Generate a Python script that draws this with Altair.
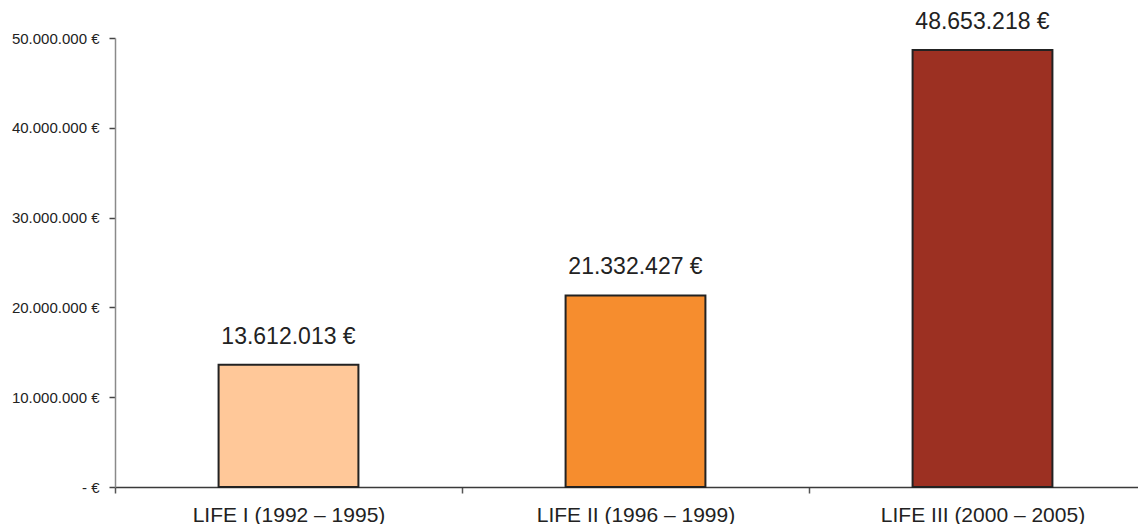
import altair as alt
import pandas as pd

categories = ["LIFE I (1992 – 1995)", "LIFE II (1996 – 1999)", "LIFE III (2000 – 2005)"]
values = [13612013, 21332427, 48653218]
colors = ["#FFC899", "#F68D2E", "#9C3022"]
y_tick_values = [0, 10000000, 20000000, 30000000, 40000000, 50000000]
y_tick_labels = ["-  €", "10.000.000 €", "20.000.000 €", "30.000.000 €", "40.000.000 €", "50.000.000 €"]


def fmt(v):
    return f"{v:,}".replace(",", ".") + " €"


df = pd.DataFrame({
    "cat": categories,
    "value": values,
    "label": [fmt(v) for v in values],
})

FONT = "Liberation Sans"
label_expr = "[" + ",".join(f"'{t}'" for t in y_tick_labels) + "][round(datum.value/10000000)]"

x = alt.X(
    "cat:N",
    sort=categories,
    title=None,
    scale=alt.Scale(paddingInner=0, paddingOuter=0, range=[0, 1041]),
    axis=alt.Axis(
        tickBand="extent",
        labelAngle=0,
        labelFontSize=21,
        labelFont=FONT,
        labelColor="#222222",
        labelBaseline="alphabetic",
        labelPadding=28,
        labelLimit=0,
        tickSize=6,
        tickColor="#555555",
        tickWidth=1.5,
        domainColor="#3a3a3a",
        domainWidth=1.5,
        labelOverlap=False,
    ),
)

y = alt.Y(
    "value:Q",
    title=None,
    scale=alt.Scale(domain=[0, 50000000], nice=False),
    axis=alt.Axis(
        values=y_tick_values,
        labelExpr=label_expr,
        labelFontSize=15,
        labelFont=FONT,
        labelColor="#222222",
        labelPadding=10,
        tickSize=6,
        tickColor="#444444",
        tickWidth=1.5,
        domainColor="#8a8a8a",
        domainWidth=1.5,
        grid=False,
    ),
)

bars = alt.Chart(df).mark_bar(
    width=alt.RelativeBandSize(0.403),
    stroke="#222222",
    strokeWidth=2,
).encode(
    x=x,
    y=y,
    color=alt.Color("cat:N", scale=alt.Scale(domain=categories, range=colors), legend=None),
)

texts = alt.Chart(df).mark_text(
    font=FONT,
    fontSize=23,
    color="#222222",
    baseline="alphabetic",
    dy=-21,
).encode(
    x=alt.X("cat:N", sort=categories),
    y=alt.Y("value:Q"),
    text="label:N",
)

chart = alt.layer(bars, texts).properties(
    width=1023,
    height=449,
    padding={"left": 107, "top": 30, "right": 0, "bottom": 37},
    autosize=alt.AutoSizeParams(type="none"),
    background="white",
).configure_view(stroke=None)

chart.save("out.html", embed_options={"renderer": "svg", "actions": False})
